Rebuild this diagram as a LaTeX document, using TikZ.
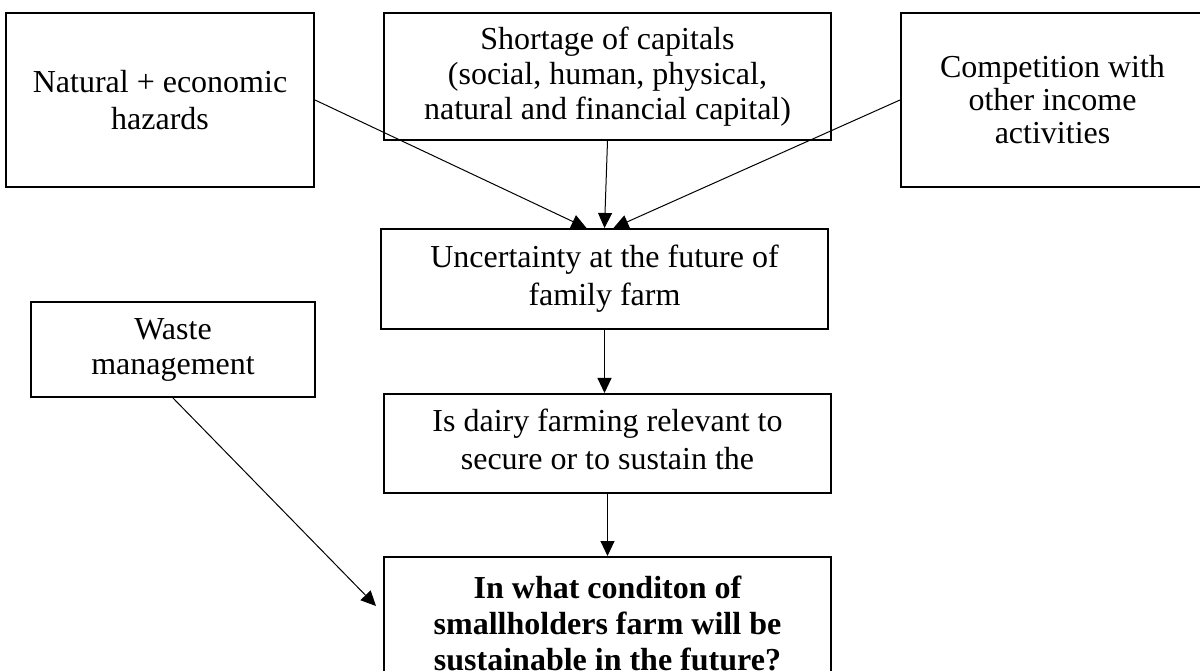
\documentclass[tikz,border=0pt]{standalone}
\usepackage{fontspec}
\setmainfont{Liberation Serif}
\usetikzlibrary{arrows.meta, positioning}

\begin{document}
\begin{tikzpicture}[
    x=1pt, y=1pt,
    box/.style={rectangle, draw, line width=2pt, inner sep=0pt, align=center, font=\fontsize{32}{#1}\selectfont},
    textdrop/.style={execute at begin node={\rule{0pt}{#1}}},
    textlift/.style={execute at end node={\rule[-#1]{0pt}{#1}}},
    arrow/.style={-{Triangle[length=15pt, width=14pt]}, line width=1pt}
]
    \useasboundingbox (0,0) rectangle (1200,670);

    \node[box=35, textdrop=34pt, minimum width=447pt, minimum height=127pt] (short) at (607.5,593.5) {Shortage of capitals\\(social, human, physical,\\natural and financial capital)};
    \node[box=37, minimum width=308pt, minimum height=174pt, left=68pt of short.north west, anchor=north east] (haz) {Natural + economic\\hazards};
    \node[box=33, textdrop=29pt, minimum width=303pt, minimum height=174pt, right=68pt of short.north east, anchor=north west] (comp) {Competition with\\other income\\activities};

    \node[box=38, textdrop=29pt, minimum width=447pt, minimum height=100pt, below=87pt of short, xshift=-3pt] (unc) {Uncertainty at the future of\\family farm};
    \node[box=38, textlift=9pt, minimum width=447pt, minimum height=99pt, below=63pt of unc, xshift=3pt] (dairy) {Is dairy farming relevant to\\secure or to sustain the};
    \node[box=36, minimum width=447pt, minimum height=133pt, below=62pt of dairy, font=\fontsize{32}{36}\selectfont\bfseries] (goal) {In what conditon of\\smallholders farm will be\\sustainable in the future?};

    \node[box=35, textdrop=28pt, minimum width=284pt, minimum height=95pt] (waste) at (173,320.5) {Waste\\management};

    \draw[arrow] (haz.east) -- ([xshift=-18pt]unc.north);
    \draw[arrow] (short.south) -- (unc.north);
    \draw[arrow] (comp.west) -- ([xshift=9pt]unc.north);
    \draw[arrow] (unc.south) -- (unc.south |- dairy.north);
    \draw[arrow] (dairy.south) -- (dairy.south |- goal.north);
    \draw[arrow] (waste.south) -- ([xshift=-7pt, yshift=17.5pt]goal.west);
\end{tikzpicture}
\end{document}
